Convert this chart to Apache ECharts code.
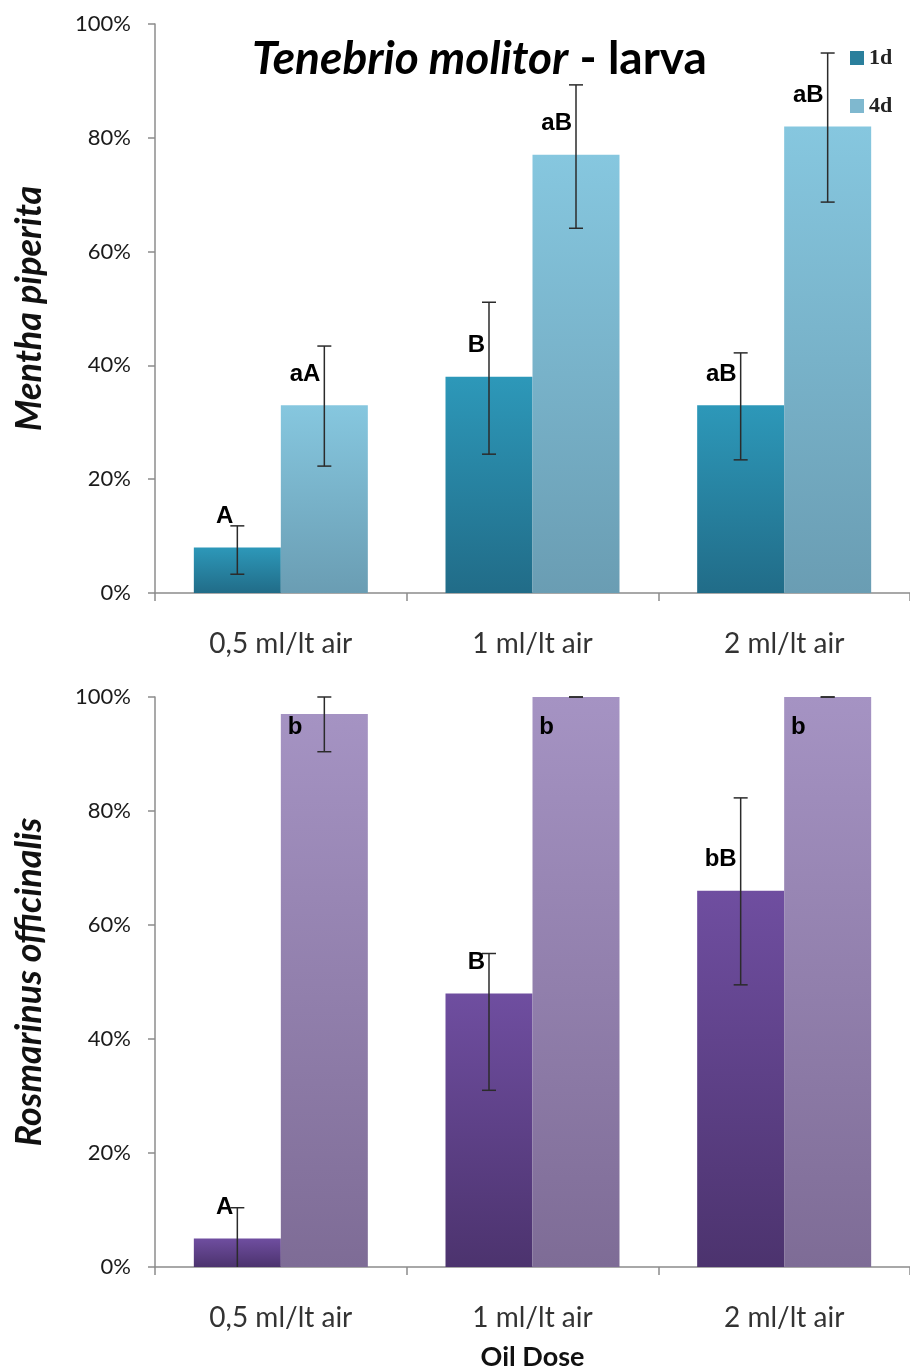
<!DOCTYPE html>
<html>
<head>
<meta charset="utf-8">
<script src="https://cdn.jsdelivr.net/npm/echarts@6/dist/echarts.min.js"></script>
<style>
html,body{margin:0;padding:0;background:#fff;}
#chart{width:910px;height:1367px;}
</style>
</head>
<body>
<div id="chart"></div>
<script>
// ---- data ----
var categories = ['0,5 ml/lt air', '1 ml/lt air', '2 ml/lt air'];
var yTicks = [0, 20, 40, 60, 80, 100];

// Mentha piperita (top)
var mentha1d = [8, 38, 33];
var mentha4d = [33, 77, 82];
var mentha1dLow = [3.3, 24.4, 23.4];
var mentha1dHigh = [11.8, 51.1, 42.2];
var mentha4dLow = [22.3, 64.1, 68.7];
var mentha4dHigh = [43.4, 89.3, 94.9];
var mentha1dLetters = ['A', 'B', 'aB'];
var mentha4dLetters = ['aA', 'aB', 'aB'];

// Rosmarinus officinalis (bottom)
var rosma1d = [5, 48, 66];
var rosma4d = [97, 100, 100];
var rosma1dLow = [0, 31, 49.5];
var rosma1dHigh = [10.4, 55, 82.3];
var rosma4dLow = [90.4, 100, 100];
var rosma4dHigh = [100, 100, 100];
var rosma1dLetters = ['A', 'B', 'bB'];
var rosma4dLetters = ['b', 'b', 'b'];

// ---- chart ----
var chart = echarts.init(document.getElementById('chart'));
var BAR_RATIO = 0.3457; // bar width as fraction of band
var Y_MAX = yTicks[yTicks.length - 1];
var SANS = 'Lato, "Open Sans", sans-serif';

function grad(top, bottom) {
  return new echarts.graphic.LinearGradient(0, 0, 0, 1, [
    { offset: 0, color: top }, { offset: 1, color: bottom }
  ]);
}

function errData(low, high) {
  return low.map(function (l, i) { return [i, l, high[i]]; });
}
function labelData(vals, letters) {
  return vals.map(function (v, i) { return [i, v, letters[i]]; });
}

function errSeries(name, gi, low, high, sign) {
  return {
    type: 'custom', name: name, xAxisIndex: gi, yAxisIndex: gi, z: 5,
    data: errData(low, high),
    renderItem: function (params, api) {
      var cat = api.value(0);
      var pLow = api.coord([cat, api.value(1)]);
      var pHigh = api.coord([cat, api.value(2)]);
      var band = api.size([1, 0])[0];
      var x = pLow[0] + sign * band * BAR_RATIO / 2;
      var style = { stroke: '#2b2b2b', lineWidth: 1.5 };
      var children = [
        { type: 'line', shape: { x1: x, y1: pLow[1], x2: x, y2: pHigh[1] }, style: style },
        { type: 'line', shape: { x1: x - 7, y1: pHigh[1], x2: x + 7, y2: pHigh[1] }, style: style }
      ];
      if (api.value(1) > 0) {
        children.push({ type: 'line', shape: { x1: x - 7, y1: pLow[1], x2: x + 7, y2: pLow[1] }, style: style });
      }
      return { type: 'group', children: children };
    }
  };
}

function letterSeries(name, gi, vals, letters, sign) {
  return {
    type: 'custom', name: name, xAxisIndex: gi, yAxisIndex: gi, z: 6,
    data: labelData(vals, letters),
    renderItem: function (params, api) {
      var cat = api.value(0);
      var v = api.value(1);
      var txt = letters[params.dataIndex];
      var inside = v >= 95;
      var anchorV = inside ? Y_MAX - 5.3 : v + 5.5;
      var p = api.coord([cat, anchorV]);
      var band = api.size([1, 0])[0];
      var x = p[0] + sign * band * BAR_RATIO / 2;
      return {
        type: 'text',
        style: {
          text: txt, x: inside ? x - 22 : x - 4, y: p[1],
          align: 'right', verticalAlign: 'middle',
          font: 'bold 24px "Liberation Sans", Arial, sans-serif', fill: '#000'
        }
      };
    }
  };
}

var axisLineStyle = { color: '#8c8c8c', width: 1.5 };

function xAxis(gi, withName) {
  var ax = {
    type: 'category', gridIndex: gi, data: categories,
    axisLine: { show: true, lineStyle: axisLineStyle },
    axisTick: { show: true, length: 8, lineStyle: axisLineStyle, alignWithLabel: false },
    axisLabel: { margin: 37, fontSize: 28, color: '#333', fontFamily: SANS },
    splitLine: { show: false }
  };
  if (withName) {
    ax.name = 'Oil Dose';
    ax.nameLocation = 'middle';
    ax.nameGap = 77;
    ax.nameTextStyle = { fontSize: 27, fontWeight: 'bold', color: '#111', fontFamily: SANS };
  }
  return ax;
}
function yAxis(gi, name) {
  return {
    type: 'value', gridIndex: gi, min: yTicks[0], max: Y_MAX, interval: 20,
    axisLine: { show: true, lineStyle: axisLineStyle },
    axisTick: { show: true, length: 7, lineStyle: axisLineStyle },
    axisLabel: { margin: 24, fontSize: 22, color: '#1a1a1a', fontFamily: SANS, formatter: '{value}%' },
    splitLine: { show: false },
    name: name, nameLocation: 'middle', nameRotate: 90, nameGap: 108,
    nameTextStyle: { fontSize: 36, fontStyle: 'italic', fontWeight: 'bold', color: '#111', fontFamily: SANS }
  };
}

var option = {
  backgroundColor: '#fff',
  animation: false,
  title: {
    left: 247, top: 31,
    text: '{i|Tenebrio molitor}{n| - larva}',
    textStyle: {
      rich: {
        i: { fontSize: 46, fontStyle: 'italic', fontWeight: 'bold', color: '#000', fontFamily: SANS },
        n: { fontSize: 46, fontWeight: 'bold', color: '#000', fontFamily: SANS }
      }
    }
  },
  legend: {
    orient: 'vertical', left: 845, top: 42, itemWidth: 14, itemHeight: 14, itemGap: 26,
    icon: 'rect',
    data: [
      { name: '1d', itemStyle: { color: '#2a7f9c' } },
      { name: '4d', itemStyle: { color: '#7fb8cf' } }
    ],
    textStyle: { fontSize: 22, fontWeight: 'bold', color: '#222', fontFamily: '"Liberation Serif", "DejaVu Serif", serif' }
  },
  grid: [
    { left: 155, right: 0, top: 24, height: 569, containLabel: false, outerBoundsMode: 'none' },
    { left: 155, right: 0, top: 697, height: 570, containLabel: false, outerBoundsMode: 'none' }
  ],
  xAxis: [xAxis(0, false), xAxis(1, true)],
  yAxis: [yAxis(0, 'Mentha piperita'), yAxis(1, 'Rosmarinus officinalis')],
  series: [
    { type: 'bar', name: '1d', xAxisIndex: 0, yAxisIndex: 0, data: mentha1d, barWidth: (BAR_RATIO * 100) + '%', barGap: '0%',
      itemStyle: { color: grad('#2d98b9', '#216c88') } },
    { type: 'bar', name: '4d', xAxisIndex: 0, yAxisIndex: 0, data: mentha4d, barWidth: (BAR_RATIO * 100) + '%', barGap: '0%',
      itemStyle: { color: grad('#86c7df', '#6a9db3') } },
    { type: 'bar', name: 'R1d', xAxisIndex: 1, yAxisIndex: 1, data: rosma1d, barWidth: (BAR_RATIO * 100) + '%', barGap: '0%',
      itemStyle: { color: grad('#6f4ea0', '#4c336e') } },
    { type: 'bar', name: 'R4d', xAxisIndex: 1, yAxisIndex: 1, data: rosma4d, barWidth: (BAR_RATIO * 100) + '%', barGap: '0%',
      itemStyle: { color: grad('#a593c3', '#7e6c96') } },
    errSeries('e1', 0, mentha1dLow, mentha1dHigh, -1),
    errSeries('e2', 0, mentha4dLow, mentha4dHigh, 1),
    errSeries('e3', 1, rosma1dLow, rosma1dHigh, -1),
    errSeries('e4', 1, rosma4dLow, rosma4dHigh, 1),
    letterSeries('l1', 0, mentha1d, mentha1dLetters, -1),
    letterSeries('l2', 0, mentha4d, mentha4dLetters, 1),
    letterSeries('l3', 1, rosma1d, rosma1dLetters, -1),
    letterSeries('l4', 1, rosma4d, rosma4dLetters, 1)
  ]
};
chart.setOption(option);
</script>
</body>
</html>
